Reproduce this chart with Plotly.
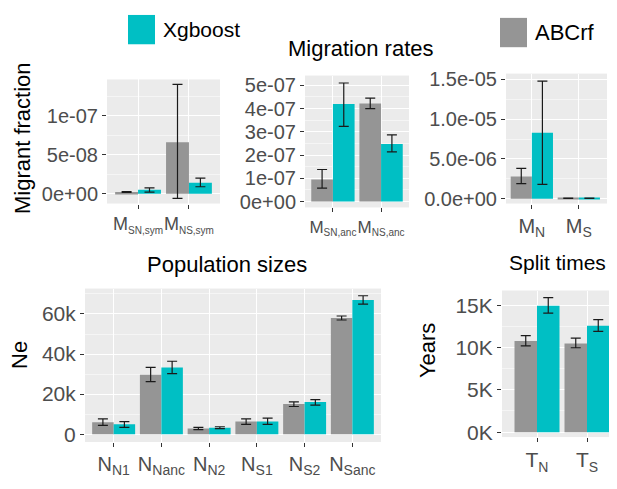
import plotly.graph_objects as go

W, H = 617, 489
OFF = 8                      # page body margin offset
FW, FH = W - OFF, H - OFF    # figure size

ABC_COLOR = "#959595"
XGB_COLOR = "#00BFC4"

# ---- Panel 1: symmetric migration rates ----
sym_labels = [("M", "SN,sym"), ("M", "NS,sym")]
sym_abc = [2.3e-9, 6.6e-8]
sym_abc_lo = [1.8e-9, -6e-9]
sym_abc_hi = [2.8e-9, 1.4e-7]
sym_xgb = [5.0e-9, 1.4e-8]
sym_xgb_lo = [2.0e-9, 9e-9]
sym_xgb_hi = [7.5e-9, 2.0e-8]
sym_ticks = [0, 5e-8, 1e-7]
sym_ticktext = ["0e+00", "5e-08", "1e-07"]

# ---- Panel 2: ancestral migration rates ----
anc_labels = [("M", "SN,anc"), ("M", "NS,anc")]
anc_abc = [0.95e-7, 4.22e-7]
anc_abc_lo = [0.58e-7, 4.0e-7]
anc_abc_hi = [1.38e-7, 4.45e-7]
anc_xgb = [4.2e-7, 2.48e-7]
anc_xgb_lo = [3.23e-7, 2.14e-7]
anc_xgb_hi = [5.1e-7, 2.87e-7]
anc_ticks = [0, 1e-7, 2e-7, 3e-7, 4e-7, 5e-7]
anc_ticktext = ["0e+00", "1e-07", "2e-07", "3e-07", "4e-07", "5e-07"]

# ---- Panel 3: current migration rates ----
cur_labels = [("M", "N"), ("M", "S")]
cur_abc = [2.8e-6, 0.06e-6]
cur_abc_lo = [1.9e-6, 0.04e-6]
cur_abc_hi = [3.8e-6, 0.08e-6]
cur_xgb = [8.3e-6, 0.05e-6]
cur_xgb_lo = [1.8e-6, 0.03e-6]
cur_xgb_hi = [14.8e-6, 0.07e-6]
cur_ticks = [0, 5e-6, 1e-5, 1.5e-5]
cur_ticktext = ["0.0e+00", "5.0e-06", "1.0e-05", "1.5e-05"]

# ---- Panel 4: population sizes ----
pop_labels = [("N", "N1"), ("N", "Nanc"), ("N", "N2"),
              ("N", "S1"), ("N", "S2"), ("N", "Sanc")]
pop_abc = [6000, 29600, 2800, 6300, 15000, 58000]
pop_abc_lo = [4400, 26200, 2300, 4900, 13800, 57000]
pop_abc_hi = [7600, 33300, 3400, 7600, 16100, 59000]
pop_xgb = [4900, 33300, 3200, 6300, 16100, 67000]
pop_xgb_lo = [3400, 30200, 2800, 4900, 14500, 64900]
pop_xgb_hi = [6300, 36400, 3700, 8000, 17200, 69100]
pop_ticks = [0, 20000, 40000, 60000]
pop_ticktext = ["0", "20k", "40k", "60k"]

# ---- Panel 5: split times ----
split_labels = [("T", "N"), ("T", "S")]
split_abc = [10770, 10470]
split_abc_lo = [10200, 9970]
split_abc_hi = [11400, 11100]
split_xgb = [14930, 12580]
split_xgb_lo = [14050, 11900]
split_xgb_hi = [15900, 13300]
split_ticks = [0, 5000, 10000, 15000]
split_ticktext = ["0K", "5K", "10K", "15K"]

panels = [
    dict(labels=sym_labels, abc=sym_abc, abc_lo=sym_abc_lo, abc_hi=sym_abc_hi,
         xgb=sym_xgb, xgb_lo=sym_xgb_lo, xgb_hi=sym_xgb_hi,
         ticks=sym_ticks, ticktext=sym_ticktext,
         px=(107, 220), py=(76, 203), yr=(-1.25e-8, 1.4625e-7), xr=(0.39, 2.61),
         yfs=20, xfs=18, sfs=10),
    dict(labels=anc_labels, abc=anc_abc, abc_lo=anc_abc_lo, abc_hi=anc_abc_hi,
         xgb=anc_xgb, xgb_lo=anc_xgb_lo, xgb_hi=anc_xgb_hi,
         ticks=anc_ticks, ticktext=anc_ticktext,
         px=(305, 409), py=(72, 207), yr=(-2.52e-8, 5.42e-7), xr=(0.42, 2.58),
         yfs=20, xfs=17, sfs=10),
    dict(labels=cur_labels, abc=cur_abc, abc_lo=cur_abc_lo, abc_hi=cur_abc_hi,
         xgb=cur_xgb, xgb_lo=cur_xgb_lo, xgb_hi=cur_xgb_hi,
         ticks=cur_ticks, ticktext=cur_ticktext,
         px=(506, 607), py=(70, 203), yr=(-0.615e-6, 15.74e-6), xr=(0.45, 2.6),
         yfs=20, xfs=20, sfs=14),
    dict(labels=pop_labels, abc=pop_abc, abc_lo=pop_abc_lo, abc_hi=pop_abc_hi,
         xgb=pop_xgb, xgb_lo=pop_xgb_lo, xgb_hi=pop_xgb_hi,
         ticks=pop_ticks, ticktext=pop_ticktext,
         px=(85, 381), py=(290, 447), yr=(-3900, 72700), xr=(0.4, 6.6),
         yfs=21, xfs=20, sfs=14),
    dict(labels=split_labels, abc=split_abc, abc_lo=split_abc_lo, abc_hi=split_abc_hi,
         xgb=split_xgb, xgb_lo=split_xgb_lo, xgb_hi=split_xgb_hi,
         ticks=split_ticks, ticktext=split_ticktext,
         px=(502, 609), py=(292, 442), yr=(-580, 16730), xr=(0.3, 2.44),
         yfs=21, xfs=21, sfs=14),
]


def fx(px):
    return (px - OFF) / FW


def fy(py):
    return 1 - (py - OFF) / FH


def sub_label(base, sub, size):
    return f"{base}<sub><span style='font-size:{size}px'>{sub}</span></sub>"


fig = go.Figure()
layout = {}
FONT = "Liberation Sans, Arial, sans-serif"

for i, p in enumerate(panels):
    n = i + 1
    xa = "x" if n == 1 else f"x{n}"
    ya = "y" if n == 1 else f"y{n}"
    cats = list(range(1, len(p["labels"]) + 1))
    for name, vals, lo, hi, col in [
        ("ABCrf", p["abc"], p["abc_lo"], p["abc_hi"], ABC_COLOR),
        ("Xgboost", p["xgb"], p["xgb_lo"], p["xgb_hi"], XGB_COLOR),
    ]:
        fig.add_trace(go.Bar(
            x=cats, y=vals, name=name, marker=dict(color=col, line=dict(width=0)),
            offsetgroup=name, showlegend=False, xaxis=xa, yaxis=ya,
            error_y=dict(type="data", symmetric=False,
                         array=[h - v for h, v in zip(hi, vals)],
                         arrayminus=[v - l for v, l in zip(vals, lo)],
                         color="#1a1a1a", thickness=1.2, width=5),
        ))
    x0, x1 = p["px"]
    y0, y1 = p["py"]
    xkey = "xaxis" if n == 1 else f"xaxis{n}"
    ykey = "yaxis" if n == 1 else f"yaxis{n}"
    dy = p["ticks"][1] - p["ticks"][0]
    layout[xkey] = dict(
        domain=[fx(x0), min(fx(x1), 1.0)], anchor=ya, range=list(p["xr"]),
        tickvals=cats, ticktext=[sub_label(b, s, p["sfs"]) for b, s in p["labels"]],
        tickangle=0, showgrid=True,
        gridcolor="white", gridwidth=1.2, zeroline=False, ticks="outside",
        ticklen=4, tickcolor="#333333",
        tickfont=dict(size=p["xfs"], color="#4D4D4D", family=FONT),
        showline=False, fixedrange=True,
    )
    layout[ykey] = dict(
        domain=[fy(y1), fy(y0)], anchor=xa, range=list(p["yr"]),
        tickvals=p["ticks"], ticktext=p["ticktext"], showgrid=True,
        gridcolor="white", gridwidth=1.2, zeroline=False, ticks="outside",
        ticklen=4, tickcolor="#333333",
        tickfont=dict(size=p["yfs"], color="#4D4D4D", family=FONT),
        minor=dict(tick0=p["ticks"][0] + dy / 2, dtick=dy, showgrid=True,
                   gridcolor="#F5F5F5", gridwidth=0.6, ticks=""),
        showline=False, fixedrange=True,
    )

annotations = [
    dict(text="Migration rates", x=fx(361), y=fy(44), font=dict(size=22)),
    dict(text="Population sizes", x=fx(227), y=fy(265), font=dict(size=22)),
    dict(text="Split times", x=fx(557), y=fy(263), font=dict(size=21)),
    dict(text="Migrant fraction", x=fx(22), y=fy(136), textangle=-90, font=dict(size=22)),
    dict(text="Ne", x=fx(20), y=fy(358), textangle=-90, font=dict(size=22)),
    dict(text="Years", x=fx(427), y=fy(354), textangle=-90, font=dict(size=22)),
    dict(text="Xgboost", x=fx(161), y=fy(25), xanchor="left", font=dict(size=21)),
    dict(text="ABCrf", x=fx(533), y=fy(28), xanchor="left", font=dict(size=22)),
]
for a in annotations:
    a.setdefault("xanchor", "center")
    a.update(xref="paper", yref="paper", yanchor="middle", showarrow=False)
    a["font"].update(family=FONT, color="#000000")

shapes = [
    dict(type="rect", xref="paper", yref="paper", x0=fx(128), x1=fx(155),
         y0=fy(40), y1=fy(10), fillcolor=XGB_COLOR, line=dict(width=0)),
    dict(type="rect", xref="paper", yref="paper", x0=fx(500), x1=fx(527),
         y0=fy(43), y1=fy(13), fillcolor=ABC_COLOR, line=dict(width=0)),
]

fig.update_layout(
    width=FW, height=FH, margin=dict(l=0, r=0, t=0, b=0),
    paper_bgcolor="white", plot_bgcolor="#EBEBEB",
    barmode="group", bargap=0.1, bargroupgap=0.0,
    showlegend=False, annotations=annotations, shapes=shapes,
    font=dict(family=FONT),
    **layout,
)

fig.write_html("out.html")
